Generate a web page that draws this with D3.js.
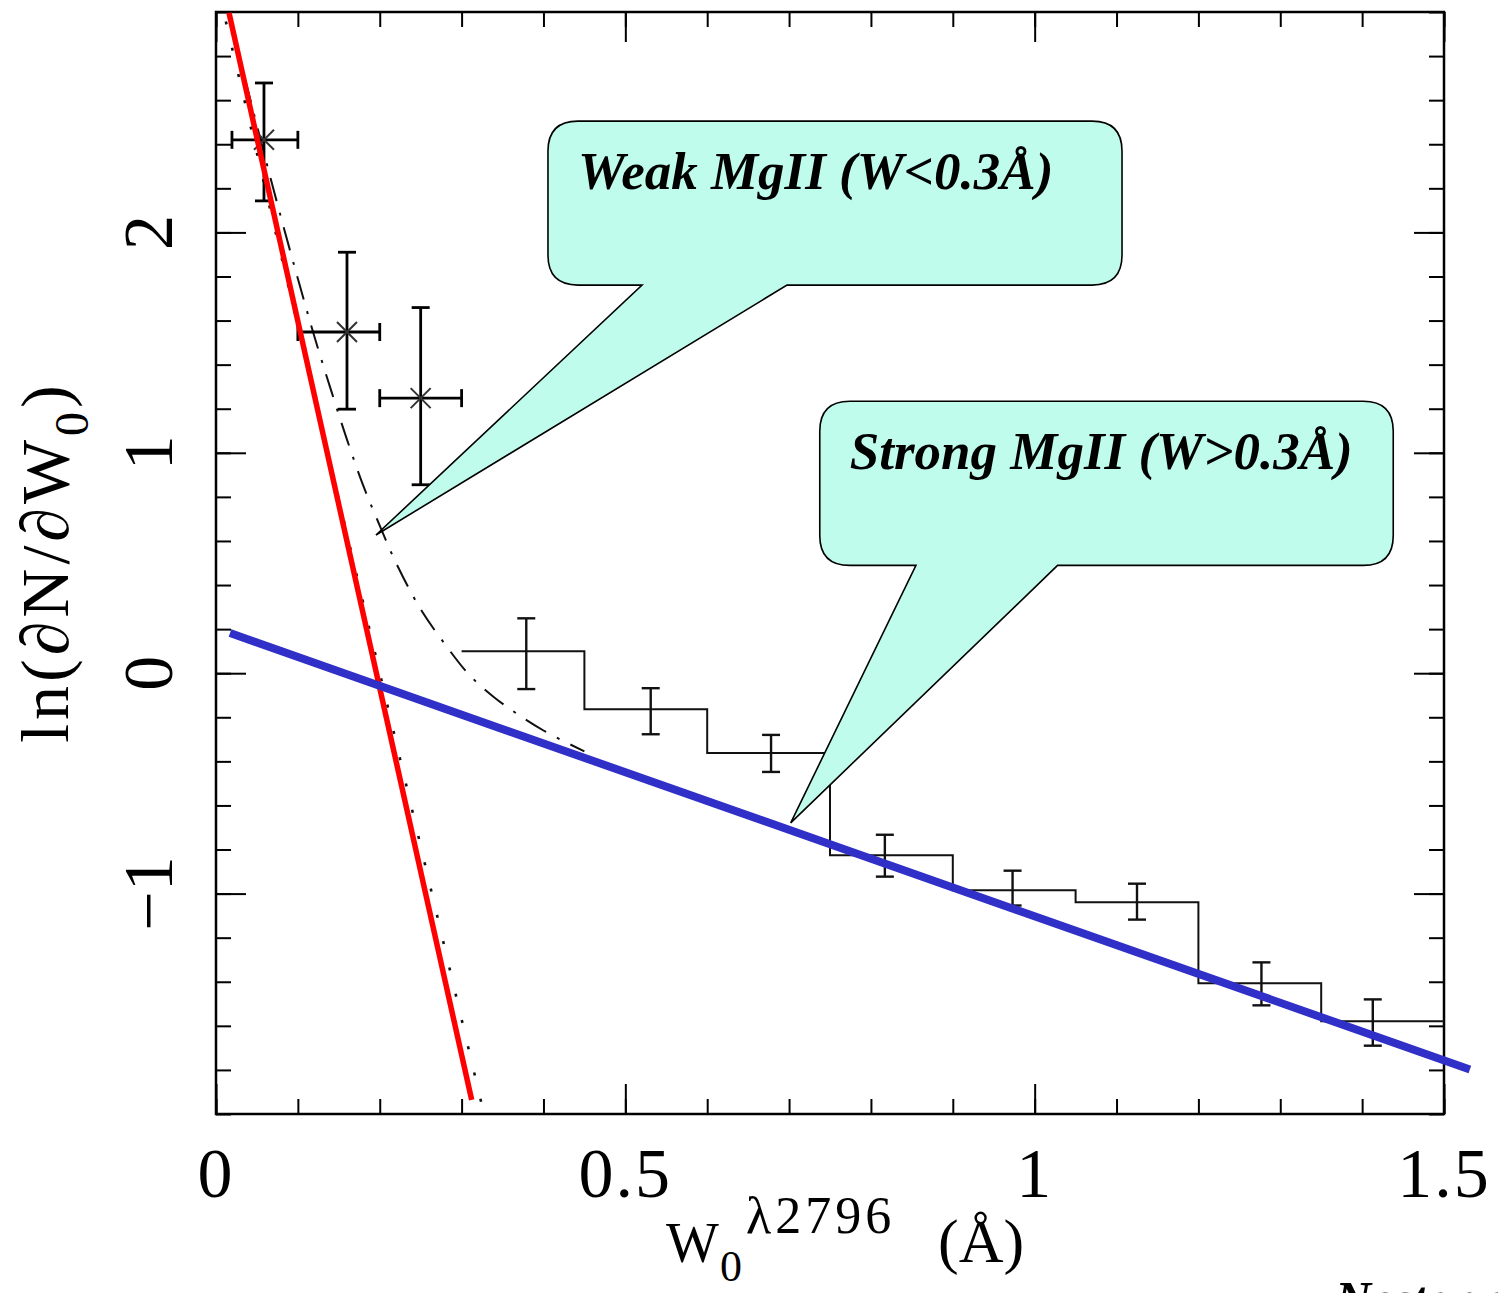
<!DOCTYPE html>
<html>
<head>
<meta charset="utf-8">
<script src="https://cdn.jsdelivr.net/npm/d3@7"></script>
<style>
  body { margin: 0; background: #ffffff; }
  svg { display: block; }
</style>
</head>
<body>
<svg id="chart" width="1498" height="1293"></svg>
<script>
// ---- Weak MgII bins: asterisks with horizontal (bin) and vertical (error) bars ----
const weakW    = [0.0586, 0.160, 0.250];
const weakWLo  = [0.0195, 0.100, 0.200];
const weakWHi  = [0.100, 0.200, 0.300];
const weakLn   = [2.420, 1.548, 1.248];
const weakLnLo = [2.143, 1.198, 0.855];
const weakLnHi = [2.678, 1.910, 1.659];

// ---- Strong MgII histogram (bin edges, level per bin, error bars) ----
const binEdges   = [0.30, 0.45, 0.60, 0.75, 0.90, 1.05, 1.20, 1.35, 1.50];
const strongLn   = [0.100, -0.163, -0.362, -0.826, -0.985, -1.039, -1.407, -1.579];
const strongErrW = [0.379, 0.531, 0.678, 0.817, 0.973, 1.125, 1.277, 1.413];
const strongLnLo = [-0.072, -0.277, -0.448, -0.923, -1.054, -1.118, -1.507, -1.690];
const strongLnHi = [0.249, -0.068, -0.280, -0.733, -0.896, -0.955, -1.312, -1.480];

// ---- Fitted exponentials (straight in ln space) ----
const weakFitW     = [0.0159, 0.3123];
const weakFitLn    = [2.996, -1.936];
const weakModelW   = [0.012, 0.3255];
const weakModelLn  = [2.957, -1.971];
const strongFitW   = [0.0171, 1.5316];
const strongFitLn  = [0.182, -1.798];

// ---- Combined two-population curve (dash-dot) ----
const comboW  = [0.02, 0.04, 0.06, 0.08, 0.10, 0.12, 0.14, 0.16, 0.18, 0.20, 0.22, 0.25, 0.28, 0.31, 0.34, 0.37, 0.40, 0.45];
const comboLn = [2.92, 2.63, 2.34, 2.06, 1.79, 1.53, 1.29, 1.06, 0.85, 0.67, 0.50, 0.29, 0.13, -0.01, -0.11, -0.19, -0.26, -0.355];

// ---- Axis ticks ----
const xMajor = [0, 0.5, 1, 1.5];
const xMajorLabels = ["0", "0.5", "1", "1.5"];
const yMajor = [-1, 0, 1, 2];
const yMajorLabels = ["\u22121", "0", "1", "2"];

// ---- Callouts (box corners, tail base, tip in data units) ----
const calloutText = ["Weak MgII (W<0.3\u00C5)", "Strong MgII (W>0.3\u00C5)"];
const calloutBox  = [[0.4055, 1.1067, 2.505, 1.761], [0.7375, 1.438, 1.234, 0.489]];
const calloutTail = [[0.5204, 0.6975, 0.1954, 0.627], [0.855, 1.028, 0.702, -0.679]];

const svg = d3.select("#chart");
const W = 1498, H = 1293;
svg.append("rect").attr("width", W).attr("height", H).attr("fill", "#ffffff");

const pL = 216, pR = 1444, pT = 12, pB = 1114;
const x = d3.scaleLinear().domain([0, 1.5]).range([pL, pR]);
const y = d3.scaleLinear().domain([-2, 3]).range([pB, pT]);

svg.append("defs").append("clipPath").attr("id", "plotclip")
  .append("rect").attr("x", pL).attr("y", pT).attr("width", pR - pL).attr("height", pB - pT);

const serif = "'Liberation Serif', 'Times New Roman', serif";

// ---- ticks on all four sides, pointing inward ----
const xMinor = d3.range(0, 1.5001, 0.1);
const yMinor = d3.range(-2, 3.0001, 0.2);
function styleAxis(g) {
  g.select(".domain").remove();
  g.selectAll(".tick line").attr("stroke", "#000").attr("stroke-width", 2);
  g.selectAll(".tick text").remove();
}
svg.append("g").attr("transform", `translate(0,${pB})`)
  .call(d3.axisBottom(x).tickValues(xMinor).tickSize(-15).tickFormat("")).call(styleAxis);
svg.append("g").attr("transform", `translate(0,${pB})`)
  .call(d3.axisBottom(x).tickValues(xMajor).tickSize(-30).tickFormat("")).call(styleAxis);
svg.append("g").attr("transform", `translate(0,${pT})`)
  .call(d3.axisTop(x).tickValues(xMinor).tickSize(-15).tickFormat("")).call(styleAxis);
svg.append("g").attr("transform", `translate(0,${pT})`)
  .call(d3.axisTop(x).tickValues(xMajor).tickSize(-30).tickFormat("")).call(styleAxis);
svg.append("g").attr("transform", `translate(${pL},0)`)
  .call(d3.axisLeft(y).tickValues(yMinor).tickSize(-15).tickFormat("")).call(styleAxis);
svg.append("g").attr("transform", `translate(${pL},0)`)
  .call(d3.axisLeft(y).tickValues(yMajor).tickSize(-30).tickFormat("")).call(styleAxis);
svg.append("g").attr("transform", `translate(${pR},0)`)
  .call(d3.axisRight(y).tickValues(yMinor).tickSize(-15).tickFormat("")).call(styleAxis);
svg.append("g").attr("transform", `translate(${pR},0)`)
  .call(d3.axisRight(y).tickValues(yMajor).tickSize(-30).tickFormat("")).call(styleAxis);

// frame
svg.append("rect").attr("x", pL).attr("y", pT).attr("width", pR - pL).attr("height", pB - pT)
  .attr("fill", "none").attr("stroke", "#000").attr("stroke-width", 2.5);

// tick labels
svg.append("g").selectAll("text").data(xMajor).join("text")
  .attr("x", d => x(d)).attr("y", 1197)
  .attr("text-anchor", "middle")
  .attr("font-family", serif).attr("font-size", 70).attr("letter-spacing", 2)
  .text((d, i) => xMajorLabels[i]);

svg.append("g").selectAll("text").data(yMajor).join("text")
  .attr("transform", d => `translate(172,${y(d)}) rotate(-90)`)
  .attr("text-anchor", "middle")
  .attr("font-family", serif).attr("font-size", 70)
  .text((d, i) => yMajorLabels[i]);

// axis titles
const xt = svg.append("text").attr("font-family", serif).attr("font-size", 56);
xt.append("tspan").attr("x", 666).attr("y", 1262).text("W");
xt.append("tspan").attr("x", 720).attr("y", 1281).attr("font-size", 44).text("0");
xt.append("tspan").attr("x", 746).attr("y", 1233).attr("font-size", 52).attr("letter-spacing", 4).text("\u03BB2796");
xt.append("tspan").attr("x", 938).attr("y", 1262).attr("font-size", 62).text("(\u00C5)");

const yt = svg.append("text")
  .attr("transform", "translate(68,562) rotate(-90)")
  .attr("text-anchor", "middle")
  .attr("font-family", serif).attr("font-size", 68).attr("letter-spacing", 4);
yt.append("tspan").text("ln(\u2202N/\u2202W");
yt.append("tspan").attr("dy", 20).attr("font-size", 48).text("0");
yt.append("tspan").attr("dy", -20).text(")");

// ---- plotted data ----
const plot = svg.append("g").attr("clip-path", "url(#plotclip)");

// combined curve (dash-dot)
plot.append("path")
  .datum(comboW.map((w, i) => [w, comboLn[i]]))
  .attr("d", d3.line().x(d => x(d[0])).y(d => y(d[1])).curve(d3.curveCatmullRom))
  .attr("fill", "none").attr("stroke", "#111").attr("stroke-width", 2)
  .attr("stroke-dasharray", "24,12,3,12");

// weak-only model (dotted)
plot.append("path")
  .datum(weakModelW.map((w, i) => [w, weakModelLn[i]]))
  .attr("d", d3.line().x(d => x(d[0])).y(d => y(d[1])))
  .attr("fill", "none").attr("stroke", "#111").attr("stroke-width", 2.6)
  .attr("stroke-dasharray", "3,24");

// strong histogram
const stepPts = [];
strongLn.forEach((v, i) => { stepPts.push([binEdges[i], v]); stepPts.push([binEdges[i + 1], v]); });
plot.append("path")
  .datum(stepPts)
  .attr("d", d3.line().x(d => x(d[0])).y(d => y(d[1])))
  .attr("fill", "none").attr("stroke", "#111").attr("stroke-width", 2);

// strong error bars
const eb = plot.append("g").attr("stroke", "#111").attr("stroke-width", 2.4).attr("fill", "none");
strongErrW.forEach((w, i) => {
  const cx = x(w);
  eb.append("line").attr("x1", cx).attr("x2", cx).attr("y1", y(strongLnLo[i])).attr("y2", y(strongLnHi[i]));
  eb.append("line").attr("x1", cx - 9).attr("x2", cx + 9).attr("y1", y(strongLnLo[i])).attr("y2", y(strongLnLo[i]));
  eb.append("line").attr("x1", cx - 9).attr("x2", cx + 9).attr("y1", y(strongLnHi[i])).attr("y2", y(strongLnHi[i]));
});

// weak points with both error bars and asterisk markers
const wk = plot.append("g").attr("stroke", "#000").attr("stroke-width", 2.8).attr("fill", "none");
weakW.forEach((w, i) => {
  const cx = x(w), cy = y(weakLn[i]);
  const y0 = y(weakLnLo[i]), y1 = y(weakLnHi[i]);
  const x0 = x(weakWLo[i]), x1 = x(weakWHi[i]);
  wk.append("line").attr("x1", cx).attr("x2", cx).attr("y1", y0).attr("y2", y1);
  wk.append("line").attr("x1", cx - 9).attr("x2", cx + 9).attr("y1", y0).attr("y2", y0);
  wk.append("line").attr("x1", cx - 9).attr("x2", cx + 9).attr("y1", y1).attr("y2", y1);
  wk.append("line").attr("x1", x0).attr("x2", x1).attr("y1", cy).attr("y2", cy);
  wk.append("line").attr("x1", x0).attr("x2", x0).attr("y1", cy - 9).attr("y2", cy + 9);
  wk.append("line").attr("x1", x1).attr("x2", x1).attr("y1", cy - 9).attr("y2", cy + 9);
  wk.append("path").attr("stroke", "#333").attr("stroke-width", 2)
    .attr("d", `M${cx - 10},${cy - 10}L${cx + 10},${cy + 10}M${cx - 10},${cy + 10}L${cx + 10},${cy - 10}`);
});

// ---- fit lines drawn over the panel ----
svg.append("path")
  .datum(weakFitW.map((w, i) => [w, weakFitLn[i]]))
  .attr("d", d3.line().x(d => x(d[0])).y(d => y(d[1])))
  .attr("fill", "none").attr("stroke", "#ff0000").attr("stroke-width", 5.5);

svg.append("path")
  .datum(strongFitW.map((w, i) => [w, strongFitLn[i]]))
  .attr("d", d3.line().x(d => x(d[0])).y(d => y(d[1])))
  .attr("fill", "none").attr("stroke", "#3030c8").attr("stroke-width", 8);

// ---- speech-bubble callouts ----
function bubblePath(box, tail, r) {
  const L = x(box[0]), R = x(box[1]), T = y(box[2]), B = y(box[3]);
  const t0 = x(tail[0]), t1 = x(tail[1]), tx = x(tail[2]), ty = y(tail[3]);
  return `M${L + r},${T}L${R - r},${T}Q${R},${T} ${R},${T + r}L${R},${B - r}Q${R},${B} ${R - r},${B}` +
         `L${t1},${B}L${tx},${ty}L${t0},${B}` +
         `L${L + r},${B}Q${L},${B} ${L},${B - r}L${L},${T + r}Q${L},${T} ${L + r},${T}Z`;
}
calloutText.forEach((txt, i) => {
  const g = svg.append("g");
  g.append("path").attr("d", bubblePath(calloutBox[i], calloutTail[i], 30))
    .attr("fill", "#c0fcec").attr("stroke", "#000").attr("stroke-width", 1.6)
    .attr("stroke-linejoin", "miter");
  g.append("text")
    .attr("x", x(calloutBox[i][0]) + 30).attr("y", y(calloutBox[i][2]) + 68)
    .attr("font-family", serif).attr("font-size", 53)
    .attr("font-weight", "bold").attr("font-style", "italic")
    .text(txt);
});

// citation line at the foot of the slide
svg.append("text").attr("x", 1335).attr("y", 1316)
  .attr("font-family", serif).attr("font-size", 50)
  .attr("font-weight", "bold").attr("font-style", "italic")
  .text("Nestor et al.");
</script>
</body>
</html>
